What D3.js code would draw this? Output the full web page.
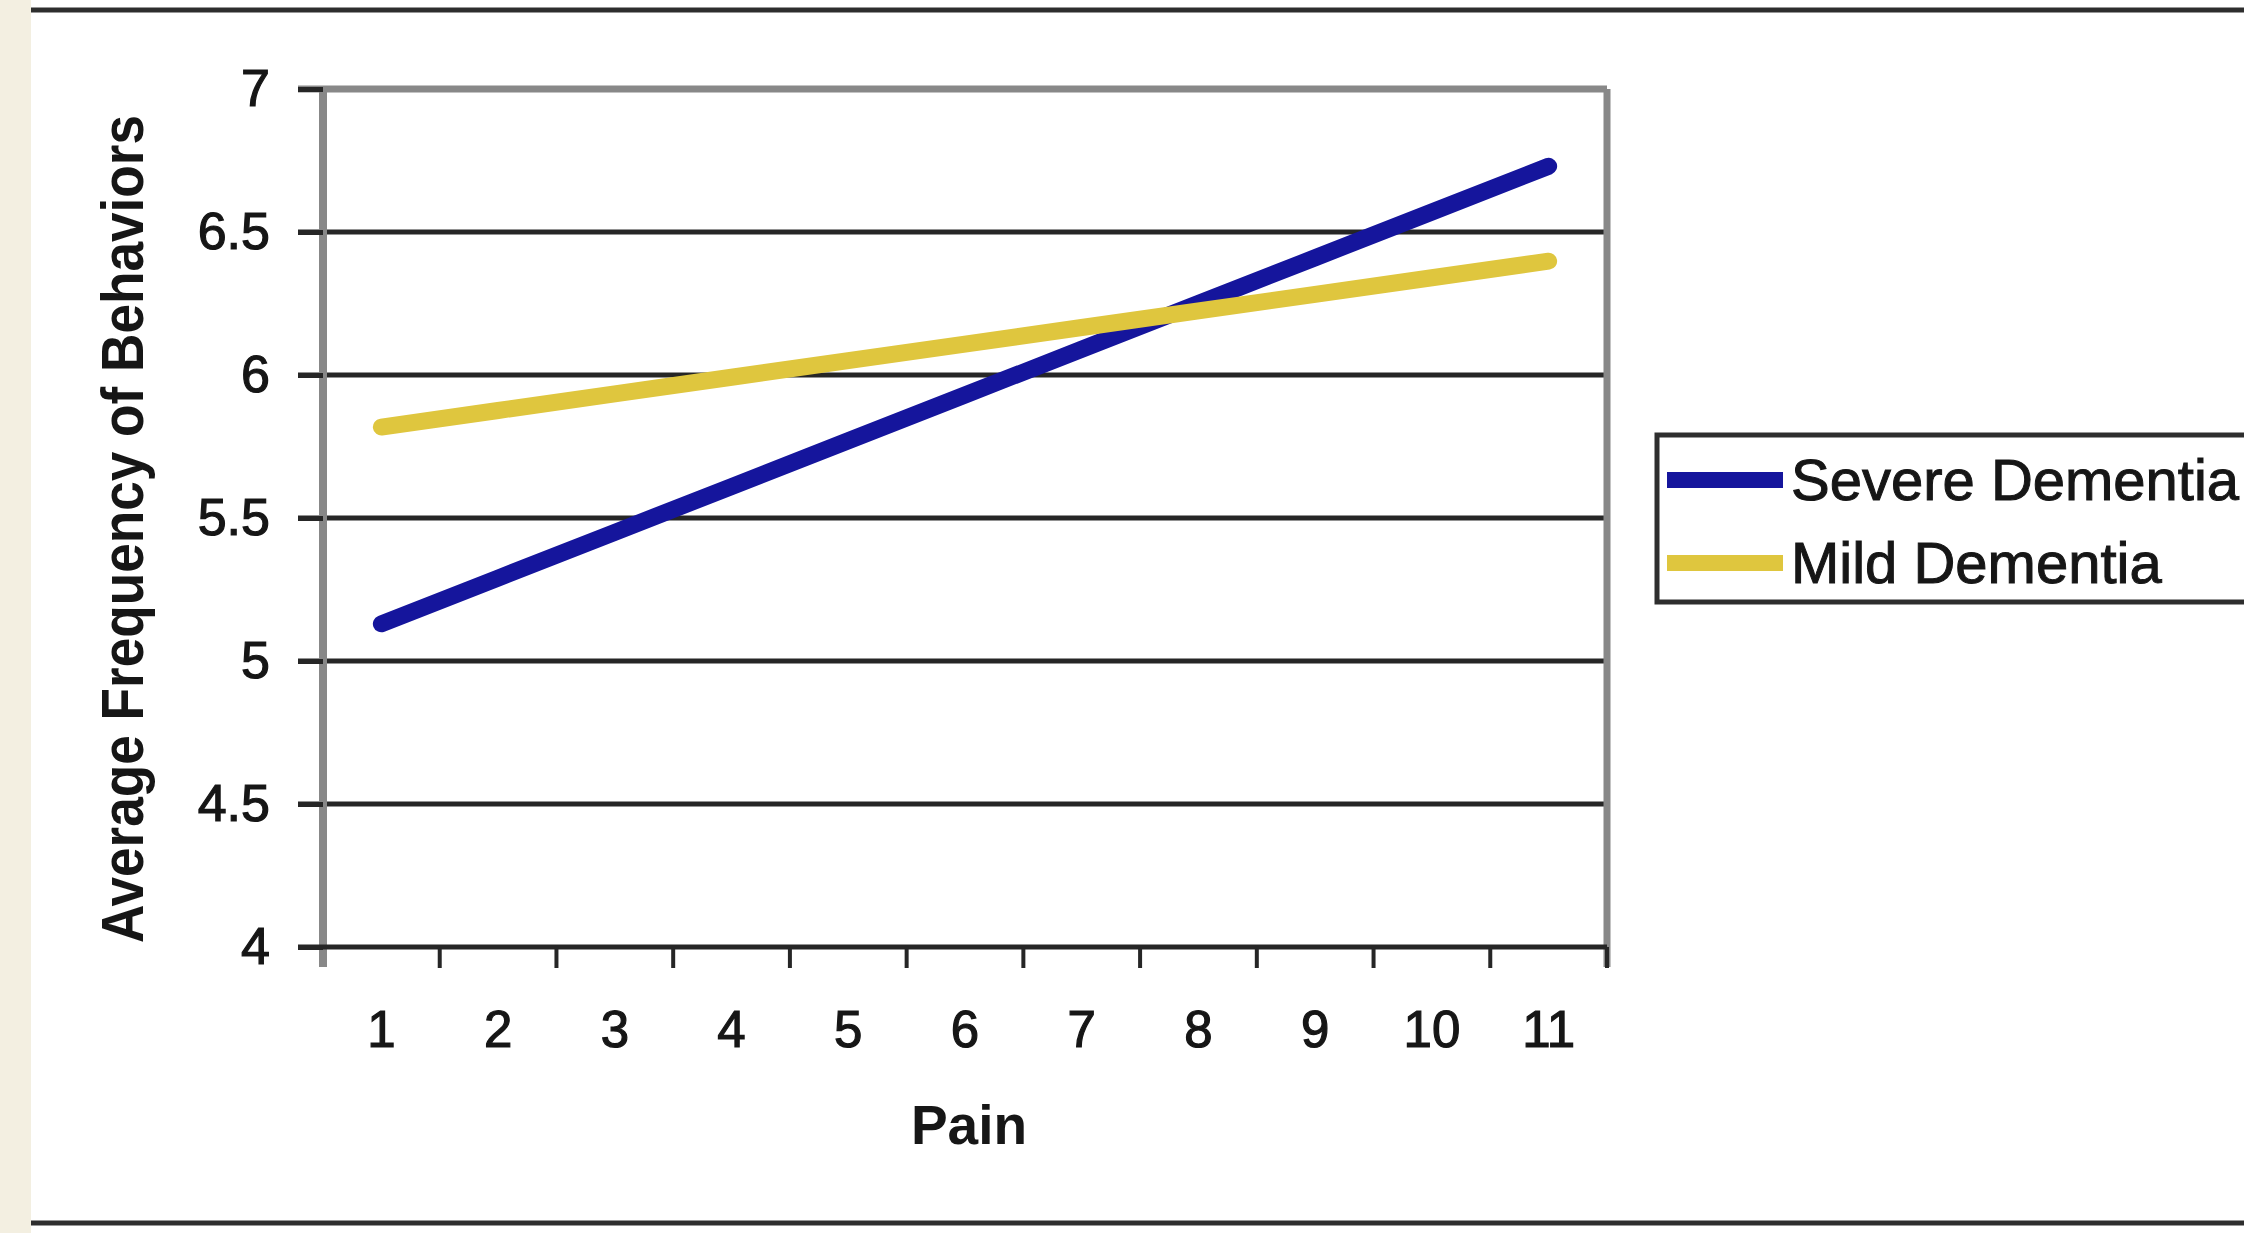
<!DOCTYPE html>
<html>
<head>
<meta charset="utf-8">
<script src="https://cdn.jsdelivr.net/npm/d3@7"></script>
<style>
  html, body { margin: 0; padding: 0; background: #fff; }
  svg { display: block; font-family: "Liberation Sans", Arial, sans-serif; }
</style>
</head>
<body>
<svg id="chart" width="2244" height="1233"></svg>
<script>
// data
const pain = [1, 2, 3, 4, 5, 6, 7, 8, 9, 10, 11];
const severe = [5.13, 5.29, 5.45, 5.61, 5.77, 5.93, 6.09, 6.25, 6.41, 6.57, 6.73];
const mild = [5.818, 5.876, 5.934, 5.992, 6.05, 6.108, 6.166, 6.224, 6.282, 6.34, 6.398];
const yTicks = [4, 4.5, 5, 5.5, 6, 6.5, 7];
const seriesNames = ["Severe Dementia", "Mild Dementia"];
const seriesColors = ["#15159c", "#dfc63e"];

const W = 2244, H = 1233;
const ink = "#161616";
const svg = d3.select("#chart");

// page frame: beige strip at the left, rules top and bottom
svg.append("rect").attr("x", 0).attr("y", 0).attr("width", 31).attr("height", H).attr("fill", "#f3efe1");
svg.append("line").attr("x1", 31).attr("x2", W).attr("y1", 10).attr("y2", 10)
  .attr("stroke", "#2e2e2e").attr("stroke-width", 5);
svg.append("line").attr("x1", 31).attr("x2", W).attr("y1", 1223).attr("y2", 1223)
  .attr("stroke", "#2e2e2e").attr("stroke-width", 5);

const x = d3.scaleBand().domain(pain).range([323, 1607]).padding(0);
const y = d3.scaleLinear().domain([4, 7]).range([947, 89]);

// gridlines (dark), top one is the grey plot border
svg.append("g").selectAll("line")
  .data(yTicks.filter(d => d > 4 && d < 7))
  .join("line")
  .attr("x1", 298).attr("x2", 1607)
  .attr("y1", d => y(d)).attr("y2", d => y(d))
  .attr("stroke", "#262626").attr("stroke-width", 5);

// plot border: grey left, top, right
svg.append("line").attr("x1", 298).attr("x2", 1607).attr("y1", y(7)).attr("y2", y(7))
  .attr("stroke", "#888").attr("stroke-width", 7);
svg.append("line").attr("x1", 1607).attr("x2", 1607).attr("y1", y(7)).attr("y2", 967)
  .attr("stroke", "#888").attr("stroke-width", 7);
svg.append("line").attr("x1", 323).attr("x2", 323).attr("y1", y(7)).attr("y2", 967)
  .attr("stroke", "#888").attr("stroke-width", 8);

// y axis labels
const yAxis = svg.append("g").attr("transform", "translate(323,0)")
  .call(d3.axisLeft(y).tickValues(yTicks).tickSize(25).tickPadding(28).tickFormat(d3.format("")));
yAxis.select(".domain").remove();
yAxis.selectAll(".tick line").attr("stroke", "#262626").attr("stroke-width", 5);
yAxis.selectAll(".tick text").attr("font-size", 52).attr("fill", ink)
  .attr("stroke", ink).attr("stroke-width", 1.2)
  .attr("font-family", "Liberation Sans, Arial, sans-serif");

// x axis line and ticks at band boundaries
svg.append("line").attr("x1", 298).attr("x2", 1607).attr("y1", y(4)).attr("y2", y(4))
  .attr("stroke", "#262626").attr("stroke-width", 5);
svg.append("g").selectAll("line")
  .data(pain.slice(1).concat(["end"]))
  .join("line")
  .attr("x1", d => d === "end" ? 1607 : x(d))
  .attr("x2", d => d === "end" ? 1607 : x(d))
  .attr("y1", y(4)).attr("y2", 968)
  .attr("stroke", "#262626").attr("stroke-width", 4);

const xAxis = svg.append("g").attr("transform", `translate(0,${y(4)})`)
  .call(d3.axisBottom(x).tickSize(0).tickPadding(64));
xAxis.select(".domain").remove();
xAxis.selectAll(".tick text").attr("font-size", 51).attr("fill", ink)
  .attr("stroke", ink).attr("stroke-width", 1.2)
  .attr("font-family", "Liberation Sans, Arial, sans-serif");

// axis titles
svg.append("text").attr("x", 969).attr("y", 1144)
  .attr("text-anchor", "middle").attr("font-size", 55).attr("font-weight", "bold")
  .attr("fill", ink).text("Pain");
svg.append("text")
  .attr("transform", "translate(143,529) rotate(-90)")
  .attr("text-anchor", "middle").attr("font-size", 60).attr("font-weight", "bold")
  .attr("fill", ink)
  .attr("textLength", 828).attr("lengthAdjust", "spacingAndGlyphs")
  .text("Average Frequency of Behaviors");

// series lines (severe first so mild sits on top)
const line = d3.line().x((d, i) => x(pain[i]) + x.bandwidth() / 2).y(d => y(d));
[severe, mild].forEach((vals, i) => {
  svg.append("path").datum(vals)
    .attr("d", line)
    .attr("fill", "none")
    .attr("stroke", seriesColors[i])
    .attr("stroke-width", 17)
    .attr("stroke-linecap", "round")
    .attr("stroke-linejoin", "round");
});

// legend (runs off the right edge like the reference)
const legend = svg.append("g");
legend.append("rect").attr("x", 1657).attr("y", 435).attr("width", 700).attr("height", 167)
  .attr("fill", "#fff").attr("stroke", "#2e2e2e").attr("stroke-width", 5);
const legendRows = [480, 563];
legend.selectAll("line.key").data(seriesNames).join("line")
  .attr("class", "key")
  .attr("x1", 1667).attr("x2", 1783)
  .attr("y1", (d, i) => legendRows[i]).attr("y2", (d, i) => legendRows[i])
  .attr("stroke", (d, i) => seriesColors[i]).attr("stroke-width", 16);
legend.selectAll("text").data(seriesNames).join("text")
  .attr("x", 1791).attr("y", (d, i) => legendRows[i] + 20)
  .attr("font-size", 58).attr("fill", ink)
  .attr("stroke", ink).attr("stroke-width", 1)
  .text(d => d);
</script>
</body>
</html>
